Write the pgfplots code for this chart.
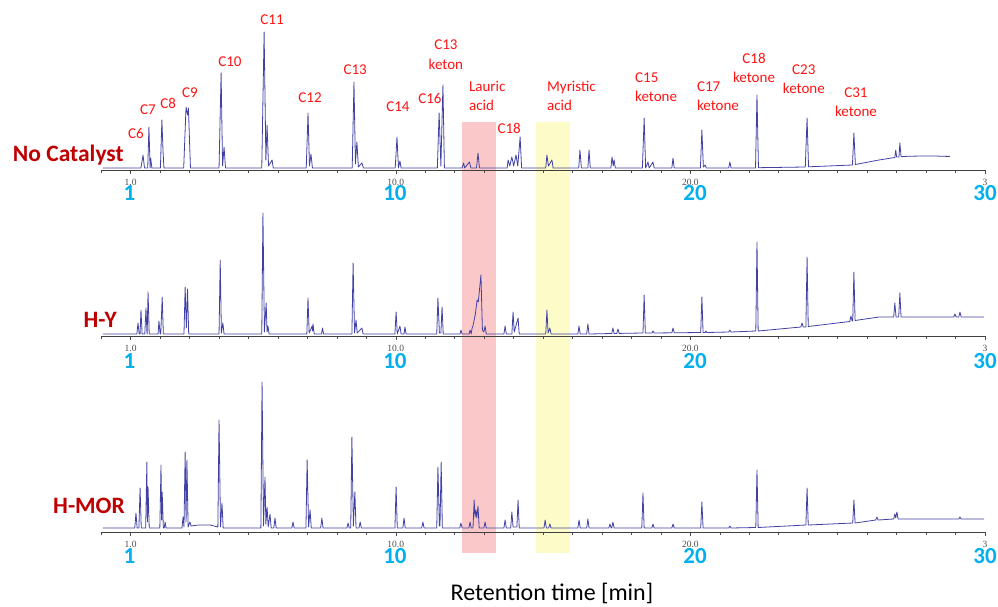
\documentclass[border=0pt]{standalone}
\usepackage{fontspec}
\setmainfont{Carlito}
\newfontfamily\tickfont{Liberation Serif}
\usepackage{pgfplots}
\pgfplotsset{compat=1.18}
\usetikzlibrary{backgrounds}

\definecolor{trace}{RGB}{65,65,165}
\definecolor{peakred}{RGB}{255,20,20}
\definecolor{panelred}{RGB}{192,0,0}
\definecolor{minblue}{RGB}{0,176,240}
\definecolor{bandpink}{RGB}{250,200,200}
\definecolor{bandyellow}{RGB}{253,252,200}

\pgfplotsset{
  chrom/.style={
    scale only axis, width=883.8pt, height=150pt,
    xmin=0, xmax=30, ymin=0, ymax=150,
    anchor=south west, clip=false,
    axis x line*=bottom, axis y line=none,
    x axis line style={black!75, line width=0.8pt, -},
    xtick={1,10,20,30}, xticklabels={1.0,10.0,20.0,3},
    minor xtick={0,...,30},
    tick align=outside, major tick length=4pt, minor tick length=3pt,
    tick style={black!70, line width=0.6pt},
    xticklabel style={font=\tickfont\fontsize{9.5}{10}\selectfont, text=black!70,
      anchor=base, yshift=-11.5pt, inner sep=0pt},
    ytick=\empty,
  },
}
\tikzset{
  lab/.style={text=peakred, font=\fontsize{15}{19.5}\selectfont, inner sep=0pt},
  pname/.style={anchor=base east, text=panelred, font=\bfseries\fontsize{23.5}{28}\selectfont, inner sep=0pt},
  minnum/.style={anchor=base, text=minblue, font=\bfseries\fontsize{23}{28}\selectfont, inner sep=0pt},
}

\begin{document}
\begin{tikzpicture}
\useasboundingbox (0,0) rectangle (998pt,606pt);

% ---- No catalyst
\begin{axis}[chrom, at={(101.2pt,436pt)}]
\addplot[trace, line width=0.8pt, line join=round] coordinates {
(0.06,2)(1.35,2)(1.42,15)(1.47,2)(1.58,2)(1.62,43)(1.66,2)(1.68,12)(1.72,2)
(2.01,2)(2.06,50)(2.10,18)(2.13,2)(2.80,2)(2.88,63)(2.93,55)(2.96,62)(3.03,2)
(4.00,2)(4.07,97)(4.12,4)(4.17,23)(4.22,2)
(5.45,2)(5.53,138)(5.59,10)(5.63,45)(5.68,4)(5.80,10)(5.84,2)
(6.96,2)(7.02,57)(7.07,4)(7.12,16)(7.17,2)
(8.52,2)(8.58,88)(8.63,6)(8.68,28)(8.73,3)(8.85,7)(8.90,2)
(9.98,2)(10.04,33)(10.09,2)(10.14,9)(10.18,2)
(11.41,2)(11.47,57)(11.53,4)(11.60,85)(11.65,2)
(12.25,2)(12.30,7)(12.34,2)(12.50,8)(12.55,2)(12.74,2)(12.79,17)(12.84,2)
(13.78,2)(13.81,10)(13.87,4)(13.94,13)(14.00,4)(14.08,15)(14.14,4)(14.22,33)(14.27,2)
(15.09,2)(15.13,15)(15.18,4)(15.30,10)(15.34,2)
(16.21,2)(16.25,20)(16.30,2)(16.52,2)(16.56,20)(16.60,2)
(17.30,2)(17.34,13)(17.38,4)(17.41,10)(17.45,2)
(18.37,2)(18.43,52)(18.48,2)(18.56,8)(18.60,2)(18.73,8)(18.77,2)
(19.37,2)(19.41,12)(19.45,2)
(20.34,2)(20.39,40)(20.44,3)(20.50,5)(20.54,2)
(21.30,2)(21.34,8)(21.38,2)
(22.21,2)(22.26,75)(22.31,2.3)
(23.90,3)(23.96,52)(24.01,3.2)
(25.50,5)(25.55,37)(25.60,5.5)
(26.40,10)(26.94,12.5)(26.97,20)(27.00,13)(27.08,13)(27.11,27)(27.15,13.5)
(27.80,14)(28.30,14)(28.81,13.5)
};
\node[lab] at (axis cs:1.18,37) {C6};
\node[lab] at (axis cs:1.59,60) {C7};
\node[lab] at (axis cs:2.27,67) {C8};
\node[lab] at (axis cs:3.01,77) {C9};
\node[lab] at (axis cs:4.37,108) {C10};
\node[lab] at (axis cs:5.80,150) {C11};
\node[lab] at (axis cs:7.09,72) {C12};
\node[lab] at (axis cs:8.62,100) {C13};
\node[lab] at (axis cs:10.07,63) {C14};
\node[lab] at (axis cs:11.16,72) {C16};
\node[lab, align=center] at (axis cs:11.70,115.5) {C13\\keton};
\node[lab, align=left, anchor=west] at (axis cs:12.48,74) {Lauric\\acid};
\node[lab] at (axis cs:13.85,42) {C18};
\node[lab, align=left, anchor=west] at (axis cs:15.13,74) {Myristic\\acid};
\node[lab, align=left, anchor=west] at (axis cs:18.12,83) {C15\\ketone};
\node[lab, align=left, anchor=west] at (axis cs:20.22,74) {C17\\ketone};
\node[lab, align=center] at (axis cs:22.16,102) {C18\\ketone};
\node[lab, align=center] at (axis cs:23.85,91) {C23\\ketone};
\node[lab, align=center] at (axis cs:25.62,68) {C31\\ketone};
\node[pname] at (axis cs:0.77,8) {No Catalyst};
\node[minnum] at (axis cs:0.96,-31) {1};
\node[minnum] at (axis cs:9.97,-31) {10};
\node[minnum] at (axis cs:20.16,-31) {20};
\node[minnum] at (axis cs:30,-31) {30};
\coordinate (pinkTL) at (axis cs:12.25,48);
\coordinate (yelTL) at (axis cs:14.76,48);
\end{axis}

% ---- H-Y
\begin{axis}[chrom, at={(101.2pt,270pt)}]
\addplot[trace, line width=0.8pt, line join=round] coordinates {
(0.06,2)(1.21,2)(1.25,13)(1.29,2)(1.32,2)(1.35,26)(1.39,2)(1.48,2)(1.52,28)(1.555,2)
(1.56,2)(1.59,44)(1.63,2)(1.93,2)(1.96,15)(2.00,2)(2.02,2)(2.05,23)(2.07,39)(2.11,2)
(2.81,2)(2.85,49)(2.89,8)(2.93,47)(2.97,2)
(4.00,2)(4.04,76)(4.08,3)(4.13,13)(4.17,2)
(5.45,2)(5.49,123)(5.54,4)(5.60,33)(5.63,4)(5.66,10)(5.70,2)
(6.98,2)(7.02,38)(7.06,3)(7.16,10)(7.175,5)(7.19,12)(7.23,2)(7.48,2)(7.51,8)(7.55,2)
(8.51,2)(8.55,73)(8.60,3)(8.65,16)(8.69,3)(8.85,8)(8.89,2)
(9.97,2)(10.01,24)(10.05,2)(10.14,10)(10.18,2)(10.28,2)(10.31,9)(10.35,2)
(11.39,2)(11.43,38)(11.48,3)(11.53,3)(11.57,29)(11.61,2)
(12.18,2)(12.21,6)(12.25,2)(12.49,2)(12.52,6)(12.56,2)(12.59,8)(12.62,10)(12.70,22)
(12.76,36)(12.80,34)(12.89,61)(12.94,6)(12.99,4)(13.03,10)(13.07,2)
(13.67,2)(13.71,10)(13.75,2)(13.94,2)(13.98,24)(14.02,4)(14.15,18)(14.19,2)
(15.09,2)(15.13,26)(15.17,3)(15.23,8)(15.27,2)
(16.18,2)(16.22,10)(16.26,2)(16.48,2)(16.52,12)(16.56,2)
(17.33,2.5)(17.37,8)(17.41,2.5)(17.50,2.6)(17.54,7)(17.58,2.6)
(18.39,3)(18.43,41)(18.47,3)(18.70,3)(18.73,5)(18.77,3)
(19.37,3.2)(19.41,8)(19.45,3.2)
(20.35,3.5)(20.39,39)(20.43,3.5)(20.50,3.5)(20.53,5)(20.56,3.5)
(21.30,4)(21.34,6)(21.38,4)
(22.22,5)(22.26,94)(22.30,5)
(23.75,9)(23.79,13)(23.83,9)(23.92,9)(23.96,79)(24.00,9.5)
(25.41,14.5)(25.45,20)(25.49,15)(25.51,15)(25.55,64)(25.59,15.5)
(26.40,19)(26.90,19)(26.94,33)(26.98,19)(27.07,19)(27.11,43)(27.15,19)
(28.94,19)(28.98,22)(29.02,19)(29.11,19)(29.15,24)(29.19,19)(29.97,19)
};
\node[pname] at (axis cs:0.54,9) {H-Y};
\node[minnum] at (axis cs:0.96,-32) {1};
\node[minnum] at (axis cs:9.97,-32) {10};
\node[minnum] at (axis cs:20.16,-32) {20};
\node[minnum] at (axis cs:30,-32) {30};
\end{axis}

% ---- H-MOR
\begin{axis}[chrom, at={(101.2pt,74pt)}]
\addplot[trace, line width=0.8pt, line join=round] coordinates {
(0.06,4)(1.14,4)(1.18,19)(1.22,4)(1.28,4)(1.32,44)(1.36,4)(1.51,4)(1.55,70)(1.57,10)(1.59,45)(1.63,4)
(1.99,4)(2.03,67)(2.05,12)(2.07,40)(2.11,4)(2.14,4)(2.17,10)(2.20,4)
(2.74,4)(2.78,15)(2.81,5)(2.85,80)(2.88,10)(2.91,72)(2.95,5)(3.01,10)(3.05,6)(3.30,7)(3.70,7)(3.96,5)
(4.00,112)(4.05,5)(4.10,29)(4.14,4)
(5.42,4)(5.46,150)(5.51,6)(5.56,55)(5.59,8)(5.63,25)(5.67,5)(5.73,18)(5.77,4)(5.86,4)(5.90,14)(5.94,4)
(6.47,4)(6.51,10)(6.55,4)
(6.95,4)(6.99,72)(7.04,5)(7.09,22)(7.13,4)(7.45,4)(7.49,14)(7.53,4)
(8.34,4)(8.38,9)(8.42,4)(8.47,4)(8.51,95)(8.56,6)(8.61,40)(8.65,4)(8.75,4)(8.79,10)(8.83,4)
(9.97,4)(10.01,45)(10.05,4)(10.24,4)(10.28,14)(10.32,4)
(10.88,4)(10.92,10)(10.96,4)
(11.39,4)(11.43,65)(11.48,6)(11.50,6)(11.54,70)(11.58,4)
(12.17,4)(12.21,9)(12.25,4)(12.48,4)(12.52,10)(12.56,4)(12.62,4)(12.66,32)(12.69,15)(12.72,22)
(12.75,14)(12.79,26)(12.83,4)(12.99,4)(13.03,10)(13.07,4)
(13.67,4)(13.71,12)(13.75,4)(13.90,4)(13.94,20)(13.98,5)(14.11,5)(14.15,32)(14.19,4)
(15.03,4)(15.07,12)(15.11,4)(15.19,4)(15.23,8)(15.27,4)
(16.18,4)(16.22,12)(16.26,4)(16.48,4)(16.52,13)(16.56,4)
(17.23,4)(17.27,8)(17.31,4)(17.33,4)(17.37,10)(17.41,4)
(18.35,4)(18.39,39)(18.43,4)(18.69,4)(18.73,8)(18.77,4)
(19.37,4)(19.41,8)(19.45,4)
(20.35,4)(20.39,30)(20.43,4)
(21.30,4)(21.34,6)(21.38,4)
(22.22,4.5)(22.26,62)(22.30,4.5)
(23.92,7)(23.96,44)(24.00,7)
(25.51,9)(25.55,32)(25.59,9)
(26.29,12)(26.33,15)(26.37,12)(26.90,13)(26.94,18)(26.97,14)(27.01,20)(27.05,13)
(29.11,13)(29.15,15)(29.19,13)(29.97,13)
};
\node[pname] at (axis cs:0.81,19) {H-MOR};
\node[minnum] at (axis cs:0.96,-31.5) {1};
\node[minnum] at (axis cs:9.97,-31.5) {10};
\node[minnum] at (axis cs:20.16,-31.5) {20};
\node[minnum] at (axis cs:30,-31.5) {30};
\node[anchor=base, font=\fontsize{24}{28}\selectfont, inner sep=0pt] at (axis cs:15.30,-68) {Retention time [min]};
\coordinate (pinkBR) at (axis cs:13.40,-21);
\coordinate (yelBR) at (axis cs:15.91,-21);
\end{axis}

\begin{pgfonlayer}{background}
\fill[bandpink] (pinkTL) rectangle (pinkBR);
\fill[bandyellow] (yelTL) rectangle (yelBR);
\end{pgfonlayer}
\end{tikzpicture}
\end{document}
